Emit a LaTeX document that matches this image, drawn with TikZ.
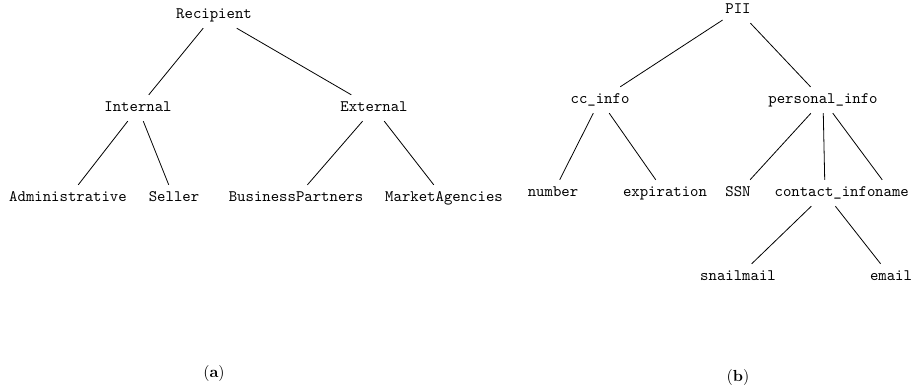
\documentclass[tikz,border=0pt]{standalone}
\begin{document}
\begin{tikzpicture}[line width=0.5pt,x=0.625pt,y=-0.625pt,
	tn/.style={font=\ttfamily,inner xsep=1.5pt,inner ysep=4.25pt,text height=6pt,text depth=1.5pt}]
\useasboundingbox (0,0) rectangle (914,390);
% (a) recipient tree
\node[tn] (rec) at (214,15) {Recipient};
\node[tn] (int) at (138,108) {Internal};
\node[tn] (ext) at (374,108) {External};
\node[tn] (adm) at (68,198) {Administrative};
\node[tn] (sel) at (174,198) {Seller};
\node[tn] (bus) at (296,198) {BusinessPartners};
\node[tn] (mkt) at (444,198) {MarketAgencies};
\draw (rec) -- (int);
\draw (rec) -- (ext);
\draw (int) -- (adm);
\draw (int) -- (sel);
\draw (ext) -- (bus);
\draw (ext) -- (mkt);
\node (capa) at (214,373) {(\textbf{a})};
% (b) PII tree
\node[tn] (pii) at (738,10) {PII};
\node[tn] (cc) at (600,100) {cc\_info};
\node[tn] (pers) at (823,100) {personal\_info};
\node[tn] (num) at (553,193) {number};
\node[tn] (exp) at (665,193) {expiration};
\node[tn] (ssn) at (738,193) {SSN};
\node[tn] (cont) at (825,193) {contact\_info};
\node[tn] (name) at (892,193) {name};
\node[tn] (snail) at (738,277) {snailmail};
\node[tn] (email) at (891,277) {email};
\draw (pii) -- (cc);
\draw (pii) -- (pers);
\draw (cc) -- (num);
\draw (cc) -- (exp);
\draw (pers) -- (ssn);
\draw (pers) -- (cont);
\draw (pers) -- (name);
\draw (cont) -- (snail);
\draw (cont) -- (email);
\node (capb) at (738,377) {(\textbf{b})};
\end{tikzpicture}
\end{document}
